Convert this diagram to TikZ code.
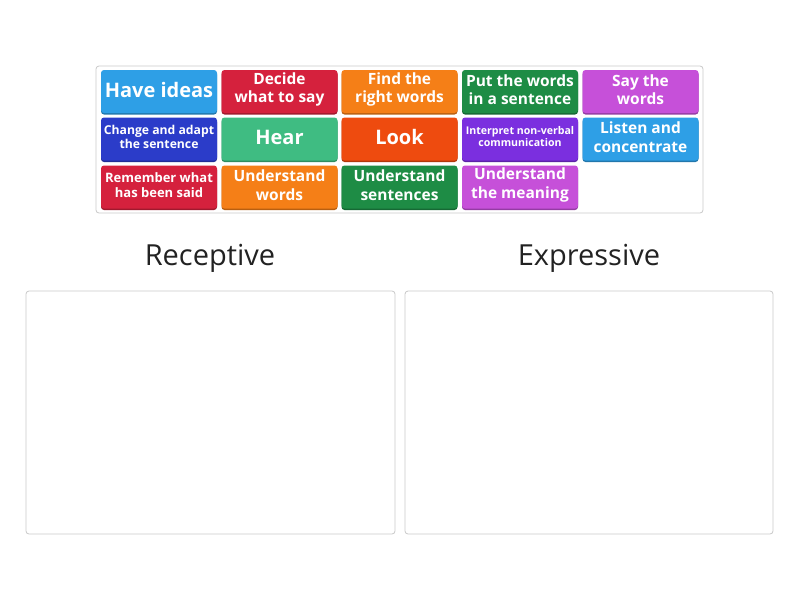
\documentclass[tikz,border=0pt]{standalone}
\usepackage{fontspec}
\setmainfont{Open Sans}
\definecolor{cLblue}{HTML}{2E9FE6}
\definecolor{cRed}{HTML}{D5213D}
\definecolor{cOrange}{HTML}{F57F17}
\definecolor{cGreen}{HTML}{1E8C45}
\definecolor{cPurple}{HTML}{C650D9}
\definecolor{cDblue}{HTML}{2B3CC9}
\definecolor{cTeal}{HTML}{3FBC82}
\definecolor{cRedor}{HTML}{EE4B0F}
\definecolor{cViolet}{HTML}{7B2FDF}
\definecolor{cFrame}{HTML}{C8C8C8}
\definecolor{cText}{HTML}{222222}
\tikzset{
  tile/.style={rounded corners=3pt, inner sep=0pt, minimum width=116pt, minimum height=43pt,
    fill=#1, preaction={fill=#1!75!black, transform canvas={yshift=-1.5pt}}},
  tiletext/.style={text=white, align=center, inner sep=0pt},
  frame/.style={draw=cFrame, line width=0.8pt, rounded corners=3pt},
  heading/.style={font=\fontsize{29}{32}\selectfont, text=cText},
  big/.style={font=\fontsize{20}{24}\selectfont\bfseries},
  mid/.style={font=\fontsize{15.5}{18.5}\selectfont\bfseries},
  small/.style={font=\fontsize{12.2}{14.5}\selectfont\bfseries},
  smallb/.style={font=\fontsize{13}{15}\selectfont\bfseries},
  tiny/.style={font=\fontsize{10.6}{12}\selectfont\bfseries}
}
% #1 name, #2 colour, #3 size style, #4 position, #5 text
\newcommand\mytile[5]{%
  \node[tile=#2] (#1) at #4 {};
  \node[tiletext, #3] (#1x) at ([yshift=2pt]#1.center) {#5};
}
\begin{document}
\begin{tikzpicture}[x=1pt,y=-1pt]
\useasboundingbox (0,0) rectangle (800,600);
\node[frame, minimum width=607pt, minimum height=147pt, inner sep=0pt] (tray) at (399.5,139.5) {};
% row 1
\mytile{t11}{cLblue}{big}{(159,91.5)}{Have ideas}
\mytile{t12}{cRed}{mid}{(279.5,91.5)}{Decide\\what to say}
\mytile{t13}{cOrange}{mid}{(399.5,91.5)}{Find the\\right words}
\mytile{t14}{cGreen}{mid}{(520,91.5)}{Put the words\\in a sentence}
\mytile{t15}{cPurple}{mid}{(640.5,91.5)}{Say the\\words}
% row 2
\mytile{t21}{cDblue}{small}{(159,139)}{Change and adapt\\the sentence}
\mytile{t22}{cTeal}{big}{(279.5,139)}{Hear}
\mytile{t23}{cRedor}{big}{(399.5,139)}{Look}
\mytile{t24}{cViolet}{tiny}{(520,139)}{Interpret non-verbal\\communication}
\mytile{t25}{cLblue}{mid}{(640.5,139)}{Listen and\\concentrate}
% row 3
\mytile{t31}{cRed}{smallb}{(159,187)}{Remember what\\has been said}
\mytile{t32}{cOrange}{mid}{(279.5,187)}{Understand\\words}
\mytile{t33}{cGreen}{mid}{(399.5,187)}{Understand\\sentences}
\mytile{t34}{cPurple}{mid}{(520,187)}{Understand\\the meaning}
% headings
\node[heading] (h1) at (210,258) {Receptive};
\node[heading] (h2) at (589,258) {Expressive};
% drop zones
\node[frame, minimum width=369pt, minimum height=243pt, inner sep=0pt] (z1) at (210.5,412.5) {};
\node[frame, minimum width=368pt, minimum height=243pt, inner sep=0pt] (z2) at (589,412.5) {};
\end{tikzpicture}
\end{document}
